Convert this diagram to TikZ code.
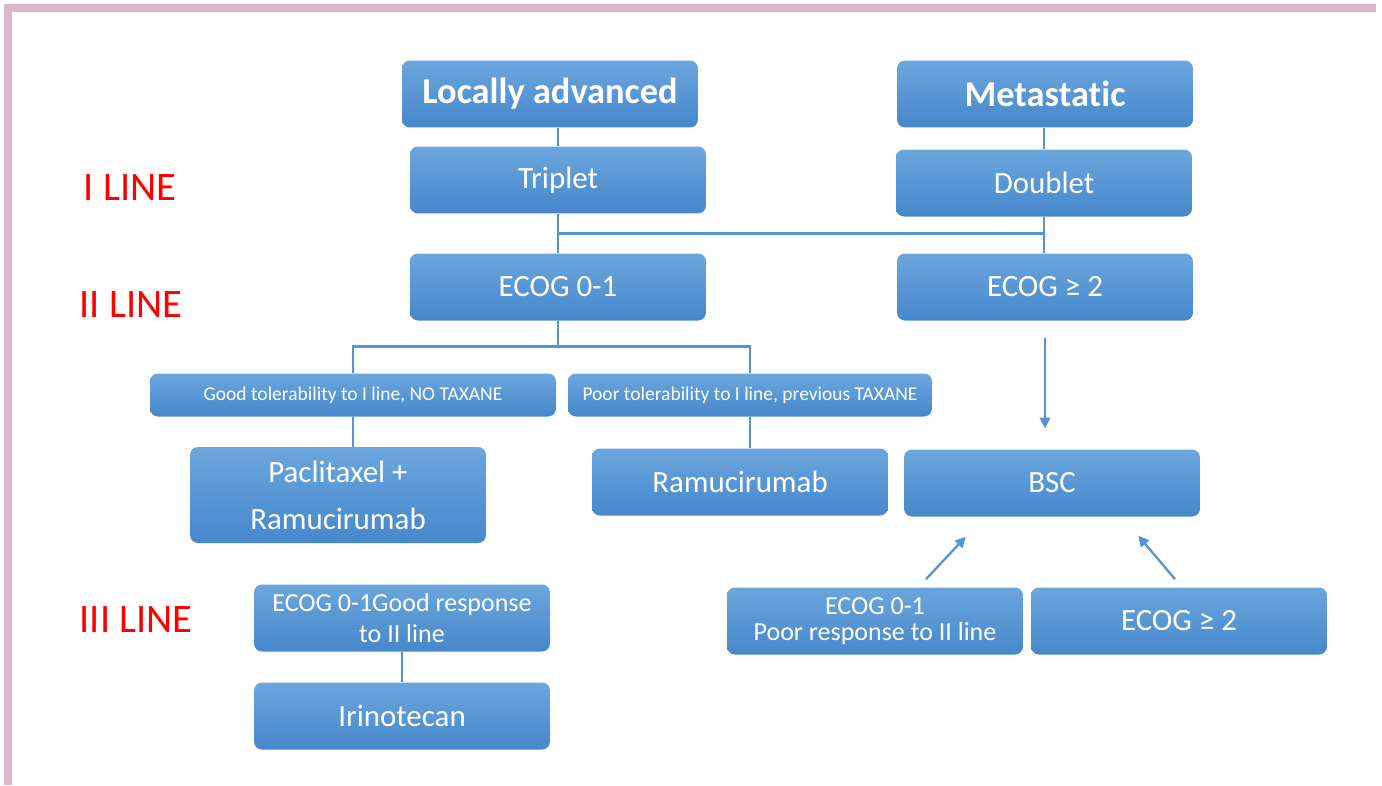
\documentclass[tikz,border=0pt]{standalone}
\usepackage{fontspec}
\setmainfont{Carlito}[Ligatures=NoCommon]
\usetikzlibrary{arrows.meta,calc,positioning}

\definecolor{boxtop}{RGB}{108,166,221}
\definecolor{boxbot}{RGB}{70,136,204}
\definecolor{linkblue}{RGB}{84,148,210}
\definecolor{framepink}{RGB}{220,183,200}

\tikzset{
  box/.style={rounded corners=4.5pt, top color=boxtop, bottom color=boxbot, draw=none,
              text=white, minimum width=5.92cm, minimum height=1.34cm, inner sep=2pt,
              align=center, font=\fontsize{17.6}{21}\selectfont},
  titlebox/.style={box, font=\fontsize{20.7}{24}\selectfont\bfseries},
  smallbox/.style={box, minimum height=0.86cm, font=\fontsize{11.1}{13}\selectfont},
  linelabel/.style={text=red, font=\fontsize{23}{26}\selectfont},
  link/.style={draw=linkblue, line width=1.6pt},
  arr/.style={draw=linkblue, line width=1.3pt, -{Triangle[length=6pt,width=6pt]}},
}

\begin{document}
\begin{tikzpicture}[x=0.02cm, y=-0.02cm]
  \useasboundingbox (0,0) rectangle (1382,785);
  \fill[white] (0,0) rectangle (1382,785);
  % frame
  \fill[framepink] (4,4) rectangle (1376,12);
  \fill[framepink] (4,4) rectangle (12,785);

  % treatment lines
  \node[linelabel] (lineI) at (130,188) {I LINE};
  \node[linelabel] (lineII) at (131,305) {II LINE};
  \node[linelabel] (lineIII) at (136,620) {III LINE};

  % first line
  \node[titlebox] (local) at (550,94) {Locally advanced};
  \node[titlebox] (meta) at (1045,94) {Metastatic};
  \node[box] (triplet) at (558,180) {Triplet};
  \node[box] (doublet) at (1044,183) {Doublet};

  % second line
  \node[box] (ecogA) at (558,287) {ECOG 0-1};
  \node[box] (ecogB) at (1045,287) {ECOG ≥ 2};
  \node[smallbox, minimum width=8.12cm] (goodtol) at (353,395) {Good tolerability to I line, NO TAXANE};
  \node[smallbox, minimum width=7.28cm] (poortol) at (750,395) {Poor tolerability to I line, previous TAXANE};
  \node[box, minimum height=1.92cm, font=\fontsize{17.6}{26.6}\selectfont] (pacli) at (338,495) {Paclitaxel +\\Ramucirumab};
  \node[box] (ramu) at (740,482) {Ramucirumab};
  \node[box] (bsc) at (1052,483) {BSC};

  % third line
  \node[box, font=\fontsize{14.8}{14.8}\selectfont] (poorresp) at (875,621) {ECOG 0-1\\Poor response to II line};
  \node[box] (ecogC) at (1179,621) {ECOG ≥ 2};
  \node[box, font=\fontsize{14.8}{18}\selectfont] (goodresp) at (402,618) {ECOG 0-1Good response\\to II line};
  \node[box] (irino) at (402,716) {Irinotecan};

  % connectors
  \draw[link] (triplet.north) -- (triplet.north |- local.south);
  \draw[link] (doublet.north) -- (doublet.north |- meta.south);
  \draw[link] (triplet.south) -- (ecogA.north);
  \coordinate (split) at ($(triplet.south)!0.5!(ecogA.north)$);
  \draw[link] (split) -- (split -| doublet.south);
  \draw[link] (doublet.south) -- (doublet.south |- ecogB.north);
  \coordinate (fork) at ($(ecogA.south)+(0,26)$);
  \draw[link] (ecogA.south) -- (fork);
  \draw[link] (goodtol.north) |- (fork) -| (poortol.north);
  \draw[link] (goodtol.south) -- (goodtol.south |- pacli.north);
  \draw[link] (poortol.south) -- (poortol.south |- ramu.north);
  \draw[link] (goodresp) -- (irino);
  \draw[arr, shorten <=0.34cm, shorten >=0.42cm] (ecogB.south) -- (ecogB.south |- bsc.north);
  \draw[arr] ($(poorresp.north)+(51,-8)$) -- ($(bsc.south west)+(62,20)$);
  \draw[arr] ($(ecogC.north)+(-4,-8)$) -- ($(bsc.south east)+(-62,19)$);
\end{tikzpicture}
\end{document}
